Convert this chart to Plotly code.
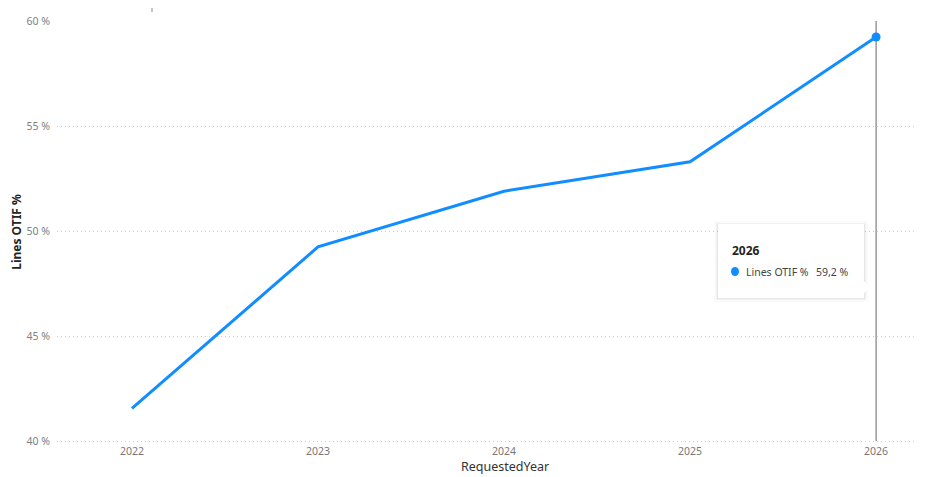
import plotly.graph_objects as go

years = [2022, 2023, 2024, 2025, 2026]
otif = [41.57, 49.25, 51.9, 53.3, 59.24]
y_ticks = [40, 45, 50, 55, 60]
y_tick_labels = ["40 %", "45 %", "50 %", "55 %", "60 %"]

# page body has an 8px default margin, so the figure is offset by (8, 8)
OFF = 8
W, H = 925 - OFF, 477 - OFF
L, R, T, B = 57 - OFF, 0, 21 - OFF, 34
x0, x1 = 2021.597, 2026.263
y0, y1 = 39.92, 60.0

def px_x(px):  # page pixel -> data x
    return x0 + (px - OFF - L) / (W - L - R) * (x1 - x0)

def px_y(py):  # page pixel -> data y
    return y0 + (H - B - (py - OFF)) / (H - B - T) * (y1 - y0)

plot_w = W - L - R
plot_h = H - B - T

def paper_x(px):
    return (px - OFF - L) / plot_w

def paper_y(py):
    return (H - B - (py - OFF)) / plot_h

blue = "#118DFF"
font = "Noto Sans"

fig = go.Figure()
fig.add_trace(go.Scatter(x=years, y=otif, mode="lines", line=dict(color=blue, width=3), hoverinfo="skip"))
fig.add_trace(go.Scatter(x=[years[-1]], y=[otif[-1]], mode="markers",
                         marker=dict(color=blue, size=9), hoverinfo="skip"))

shapes = []
# vertical hover line
shapes.append(dict(type="line", xref="x", yref="paper", x0=years[-1], x1=years[-1],
                   y0=paper_y(441), y1=1.0,
                   line=dict(color="#666666", width=1), layer="below"))
# small tick at top
shapes.append(dict(type="line", xref="x", yref="paper", x0=px_x(152), x1=px_x(152),
                   y0=paper_y(12), y1=paper_y(8),
                   line=dict(color="#888888", width=1)))
# tooltip shadow
for d, c in [(4, "rgba(0,0,0,0.02)"), (2, "rgba(0,0,0,0.035)"), (1, "rgba(0,0,0,0.04)")]:
    shapes.append(dict(type="rect", xref="x", yref="y", x0=px_x(718 - d), x1=px_x(864 + d),
                       y0=px_y(298 + d), y1=px_y(224 - d + 1), fillcolor=c, line=dict(width=0)))
shapes.append(dict(type="rect", xref="x", yref="y", x0=px_x(718), x1=px_x(864), y0=px_y(298), y1=px_y(224),
                   fillcolor="white", line=dict(width=0)))
# arrow
shapes.append(dict(type="path", xref="x", yref="y",
                   path=f"M {px_x(863)},{px_y(280)} L {px_x(870)},{px_y(287)} L {px_x(863)},{px_y(294)} Z",
                   fillcolor="white", line=dict(width=0)))
# legend dot
shapes.append(dict(type="circle", xref="x", yref="y", x0=px_x(731), x1=px_x(739), y0=px_y(276), y1=px_y(267),
                   fillcolor=blue, line=dict(width=0)))

annotations = [
    dict(x=px_x(730), y=px_y(250), xref="x", yref="y", text="<b>2026</b>", showarrow=False,
         xanchor="left", yanchor="middle", font=dict(family=font, size=12, color="#252423")),
    dict(x=px_x(744), y=px_y(272), xref="x", yref="y", text="Lines OTIF %", showarrow=False,
         xanchor="left", yanchor="middle", font=dict(family=font, size=10.5, color="#444444")),
    dict(x=px_x(851), y=px_y(272), xref="x", yref="y", text="59,2 %", showarrow=False,
         xanchor="right", yanchor="middle", font=dict(family=font, size=10.5, color="#444444")),
    # x-axis title
    dict(x=paper_x(505), y=paper_y(467), xref="paper", yref="paper", text="RequestedYear", showarrow=False,
         xanchor="center", yanchor="middle", font=dict(family=font, size=12.5, color="#333333")),
]

fig.update_layout(
    width=W, height=H,
    margin=dict(l=L, r=R, t=T, b=B),
    paper_bgcolor="white", plot_bgcolor="white",
    showlegend=False,
    font=dict(family=font, color="#777777", size=11),
    shapes=shapes, annotations=annotations,
    xaxis=dict(range=[x0, x1], tickvals=years, ticktext=[str(y) for y in years],
               showgrid=False, zeroline=False, showline=False, ticks="", automargin=False,
               tickfont=dict(size=10.5, color="#777777")),
    yaxis=dict(range=[y0, y1], tickvals=y_ticks, ticktext=y_tick_labels,
               showgrid=True, gridcolor="#cfcfcf", griddash="1px,3px", gridwidth=1,
               zeroline=False, showline=False, ticks="", ticklabelstandoff=6, automargin=False,
               tickfont=dict(size=10.5, color="#808080"),
               title=dict(text="<b>Lines OTIF %</b>", font=dict(size=12, color="#252423"), standoff=8)),
)

fig.write_html("out.html")
